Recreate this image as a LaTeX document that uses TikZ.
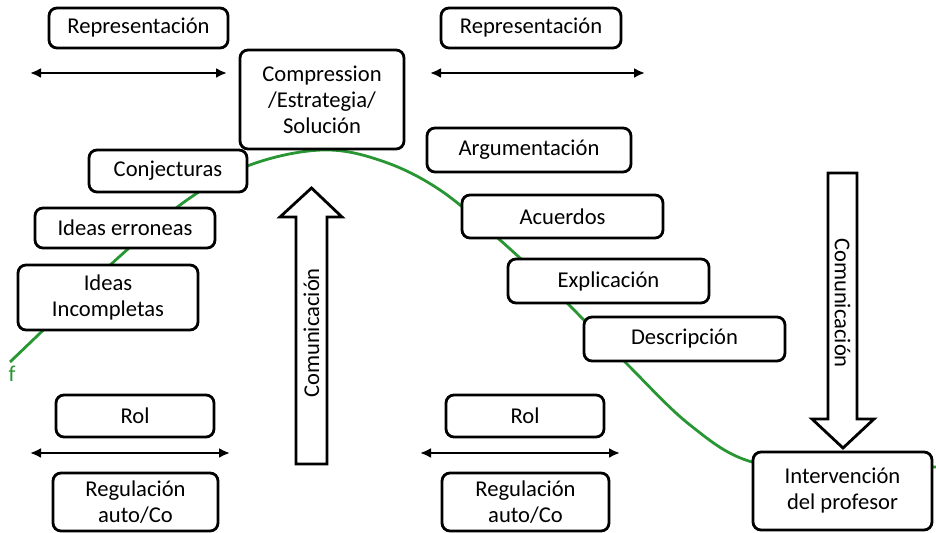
\documentclass[tikz,border=0pt]{standalone}
\usepackage{fontspec}
\setmainfont{Carlito}
\usepackage{tikz}
\usetikzlibrary{arrows.meta}
\definecolor{fgreen}{RGB}{40,150,50}

\begin{document}
\begin{tikzpicture}[x=0.5pt,y=-0.5pt]
\tikzstyle{stage}=[rectangle, rounded corners=4pt, line width=1.4pt, draw=black, fill=white, align=center, inner sep=0pt, font=\fontsize{11.3}{13}\selectfont]
\tikzstyle{link}=[{Latex[length=5.5pt,width=5pt]}-{Latex[length=5.5pt,width=5pt]}, line width=1.3pt]
\tikzstyle{block}=[line width=1.4pt, draw=black, fill=white, line join=miter]
\tikzstyle{lbl}=[font=\fontsize{11.3}{13}\selectfont, inner sep=0pt]
\tikzstyle{curve}=[line width=1.4pt, draw=fgreen]
\useasboundingbox (0,0) rectangle (936,533);

	% the green curve, behind the boxes
	\draw[curve] plot[smooth, tension=0.6] coordinates {(10,362) (60,314) (119,257) (187,200) (250,165) (322,150) (382,161) (440,190) (500,240) (560,296) (625,362) (690,425) (752,462) (840,468) (936,467)};
	\node[lbl, text=fgreen] (f_lbl) at (12,374) {f};

	% left side
	\node[stage, minimum width=89.5pt, minimum height=20pt] (rep_l) at (138.5,28) {Representación};
	\node[stage, minimum width=79pt, minimum height=21pt] (conj) at (168,171) {Conjecturas};
	\node[stage, minimum width=90pt, minimum height=20pt] (err) at (125,228) {Ideas erroneas};
	\node[stage, minimum width=90pt, minimum height=32.5pt] (inc) at (108,297.5) {Ideas\\Incompletas};
	\node[stage, minimum width=79pt, minimum height=21pt] (rol_l) at (135,416) {Rol};
	\node[stage, minimum width=82.5pt, minimum height=29pt] (reg_l) at (135.5,502) {Regulación\\auto/Co};

	% top
	\node[stage, minimum width=82pt, minimum height=49.5pt] (comp) at (322,99.5) {Compression\\/Estrategia/\\Solución};

	% right side
	\node[stage, minimum width=90pt, minimum height=20pt] (rep_r) at (531,28) {Representación};
	\node[stage, minimum width=102pt, minimum height=22pt] (arg) at (529,150) {Argumentación};
	\node[stage, minimum width=100.5pt, minimum height=21.5pt] (acu) at (562.5,216.5) {Acuerdos};
	\node[stage, minimum width=100.5pt, minimum height=22pt] (expl) at (608.5,281) {Explicación};
	\node[stage, minimum width=100.5pt, minimum height=22pt] (desc) at (684.5,339) {Descripción};
	\node[stage, minimum width=79pt, minimum height=21pt] (rol_r) at (525,416) {Rol};
	\node[stage, minimum width=83.5pt, minimum height=29pt] (reg_r) at (525.5,502) {Regulación\\auto/Co};
	\node[stage, minimum width=89.5pt, minimum height=39pt] (prof) at (842.5,491) {Intervención\\del profesor};

	% double arrows
	\coordinate (tl_a) at (30,73);
	\coordinate (tl_b) at (227,73);
	\coordinate (tr_a) at (430,73);
	\coordinate (tr_b) at (645,73);
	\coordinate (bl_a) at (30,453);
	\coordinate (bl_b) at (230,453);
	\coordinate (br_a) at (420,453);
	\coordinate (br_b) at (620,453);
	\draw[link] (tl_a) -- (tl_b);
	\draw[link] (tr_a) -- (tr_b);
	\draw[link] (bl_a) -- (bl_b);
	\draw[link] (br_a) -- (br_b);

	% block arrows
	\draw[block] (296,464) -- (296,217) -- (280,217) -- (311.5,188) -- (342,217) -- (327,217) -- (327,464) -- cycle;
	\node[lbl, rotate=90] (com_up) at (311.5,333) {Comunicación};
	\draw[block] (828,173) -- (828,419) -- (812,419) -- (843,448) -- (874,419) -- (857,419) -- (857,173) -- cycle;
	\node[lbl, rotate=-90] (com_down) at (842.5,303) {Comunicación};

\end{tikzpicture}
\end{document}
